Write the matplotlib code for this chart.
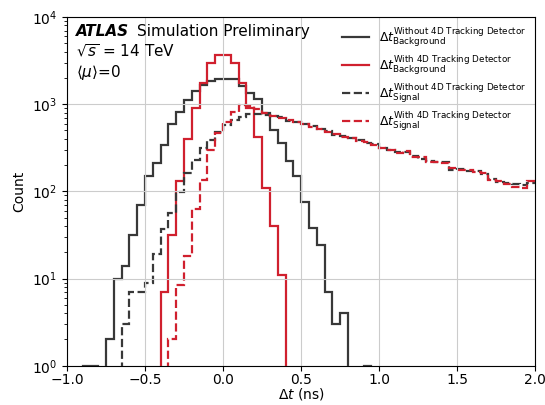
import numpy as np
import matplotlib
matplotlib.use('Agg')
import matplotlib.pyplot as plt

# bins of 0.05 ns from -1 to 2
bin_edges = np.linspace(-1.0, 2.0, 61)

# counts per bin (left edge -1.00, -0.95, ... 1.95)
bkg_no4d = [0, 0, 1, 1, 0, 2, 10, 14, 32, 70,
            152, 211, 340, 590, 810, 1110, 1400, 1650, 1850, 1930,
            1940, 1930, 1620, 1340, 1140, 800, 505, 360, 225, 150,
            75, 38, 24, 7, 3, 4, 0, 0, 1, 0,
            0, 0, 0, 0, 0, 0, 0, 0, 0, 0,
            0, 0, 0, 0, 0, 0, 0, 0, 0, 0]

bkg_4d = [0, 0, 0, 0, 0, 0, 0, 0, 0, 0,
          0, 0, 7, 32, 130, 395, 905, 1750, 2960, 3700,
          3700, 2960, 1750, 900, 417, 109, 40, 11, 0, 0,
          0, 0, 0, 0, 0, 0, 0, 0, 0, 0,
          0, 0, 0, 0, 0, 0, 0, 0, 0, 0,
          0, 0, 0, 0, 0, 0, 0, 0, 0, 0]

sig_no4d = [0, 0, 0, 0, 0, 0, 0, 3, 7, 7,
            9, 19, 37, 56, 98, 162, 230, 315, 390, 480,
            578, 659, 720, 770, 775, 760, 730, 705, 640, 630,
            590, 560, 515, 495, 445, 432, 405, 388, 355, 348,
            318, 296, 282, 280, 254, 238, 224, 215, 215, 178,
            180, 172, 170, 157, 140, 128, 125, 120, 118, 126]

sig_4d = [0, 0, 0, 0, 0, 0, 0, 0, 0, 0,
          0, 0, 0, 2, 8.4, 18, 62, 135, 298, 464,
          630, 820, 980, 953, 873, 790, 740, 690, 655, 620,
          598, 552, 524, 485, 452, 425, 412, 380, 364, 340,
          312, 302, 275, 287, 247, 245, 217, 220, 210, 185,
          176, 177, 166, 162, 136, 133, 121, 112, 110, 132]

labels = [
    r'$\Delta t^{\mathrm{Without\ 4D\ Tracking\ Detector}}_{\mathrm{Background}}$',
    r'$\Delta t^{\mathrm{With\ 4D\ Tracking\ Detector}}_{\mathrm{Background}}$',
    r'$\Delta t^{\mathrm{Without\ 4D\ Tracking\ Detector}}_{\mathrm{Signal}}$',
    r'$\Delta t^{\mathrm{With\ 4D\ Tracking\ Detector}}_{\mathrm{Signal}}$',
]

black = '#383838'
red = '#d0202e'

fig = plt.figure(figsize=(5.45, 4.05), dpi=100)
ax = fig.add_axes([0.123, 0.097, 0.859, 0.861])

ax.stairs(bkg_no4d, bin_edges, baseline=None, color=black, lw=1.6, label=labels[0])
ax.stairs(bkg_4d, bin_edges, baseline=None, color=red, lw=1.6, label=labels[1])
ax.stairs(sig_no4d, bin_edges, baseline=None, color=black, lw=1.6, ls='--', label=labels[2])
ax.stairs(sig_4d, bin_edges, baseline=None, color=red, lw=1.6, ls='--', label=labels[3])

ax.set_yscale('log')
ax.set_xlim(-1.0, 2.0)
ax.set_ylim(1, 1e4)
ax.set_xticks(np.arange(-1.0, 2.01, 0.5))
ax.grid(True, which='major', color='#cccccc', lw=0.8)
ax.tick_params(labelsize=10)
ax.tick_params(axis='x', pad=2)

ax.set_xlabel(r'$\Delta t$ (ns)', fontsize=10)
ax.xaxis.set_label_coords(0.5, -0.058)
ax.set_ylabel('Count', fontsize=10)

ax.text(0.019, 0.946, 'ATLAS', transform=ax.transAxes, fontsize=11,
        fontweight='bold', fontstyle='italic', va='baseline')
ax.text(0.150, 0.946, 'Simulation Preliminary', transform=ax.transAxes,
        fontsize=11, va='baseline')
ax.text(0.019, 0.886, r'$\sqrt{s}$ = 14 TeV', transform=ax.transAxes,
        fontsize=11, va='baseline')
ax.text(0.019, 0.829, r'$\langle\mu\rangle$=0', transform=ax.transAxes,
        fontsize=11, va='baseline')

ax.legend(loc='upper left', bbox_to_anchor=(0.577, 0.99), borderaxespad=0,
          frameon=False, fontsize=9, labelspacing=0.35, handlelength=2.15,
          handletextpad=0.8)

fig.savefig('out.png', dpi=100)
